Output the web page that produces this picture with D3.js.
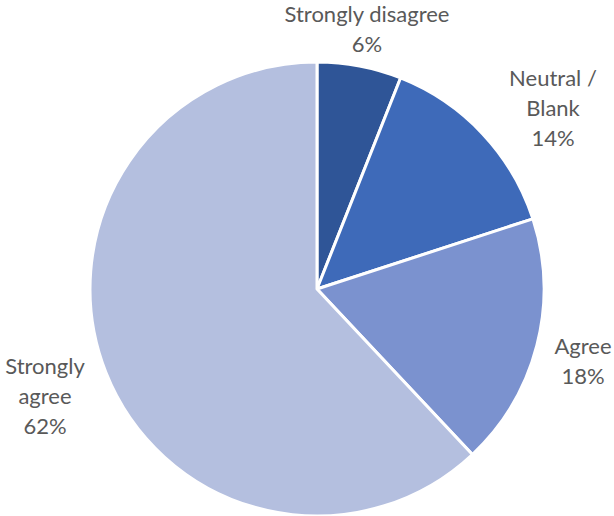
<!DOCTYPE html>
<html>
<head>
<meta charset="utf-8">
<script src="https://cdn.jsdelivr.net/npm/d3@7/dist/d3.min.js"></script>
<style>
  html, body { margin: 0; padding: 0; background: #fff; }
  svg { display: block; }
</style>
</head>
<body>
<svg id="chart" width="614" height="516"></svg>
<script>
// Survey responses, clockwise from 12 o'clock
const categories = ["Strongly disagree", "Neutral / Blank", "Agree", "Strongly agree"];
const labelLines = [["Strongly disagree"], ["Neutral /", "Blank"], ["Agree"], ["Strongly", "agree"]];
const values = [6, 14, 18, 62];
const colors = ["#2F5597", "#3E6AB9", "#7B92CF", "#B4BFDF"];

const width = 614, height = 516;
const cx = 317, cy = 289, radius = 227;
// centre of each label block, relative to the pie centre
const labelOffsets = [[50, -260], [236, -181], [266, 72], [-272, 107]];
const lineHeight = 30;

const svg = d3.select("#chart");
const g = svg.append("g").attr("transform", `translate(${cx},${cy})`);

const data = categories.map((c, i) => ({ category: c, value: values[i], lines: labelLines[i], idx: i }));

const pie = d3.pie().value(d => d.value).sort(null);
const arc = d3.arc().innerRadius(0).outerRadius(radius);
const arcs = pie(data);

g.selectAll("path.slice")
  .data(arcs)
  .join("path")
  .attr("class", "slice")
  .attr("d", arc)
  .attr("fill", d => colors[d.data.idx])
  .attr("stroke", "#fff")
  .attr("stroke-width", 3)
  .attr("stroke-linejoin", "round");

const labels = g.selectAll("text.label")
  .data(arcs)
  .join("text")
  .attr("class", "label")
  .attr("text-anchor", "middle")
  .attr("font-family", "Lato, 'Open Sans', sans-serif")
  .attr("font-size", 22)
  .attr("fill", "#595959");

labels.each(function(d) {
  const [x, y] = labelOffsets[d.data.idx];
  const lines = d.data.lines.concat([d.data.value + "%"]);
  const top = y - (lines.length - 1) * lineHeight / 2;
  const t = d3.select(this);
  lines.forEach((ln, k) => {
    t.append("tspan")
      .attr("x", x)
      .attr("y", top + k * lineHeight)
      .attr("dy", "0.35em")
      .text(ln);
  });
});
</script>
</body>
</html>
